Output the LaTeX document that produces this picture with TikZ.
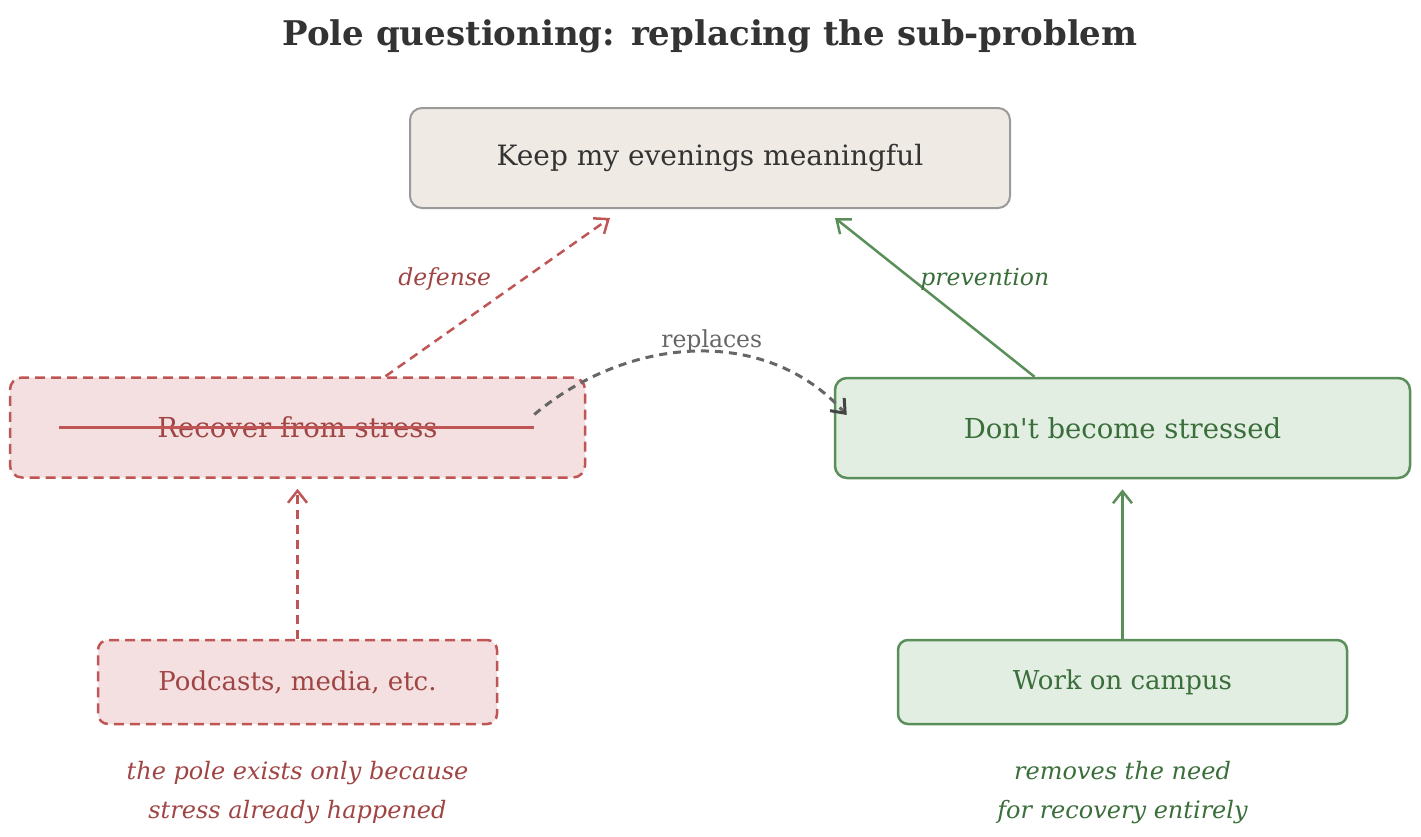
\documentclass[tikz,border=0pt]{standalone}
\usepackage{fontspec}
\setmainfont{DejaVu Serif}[Ligatures=TeXOff]
\usetikzlibrary{arrows.meta,positioning,calc}
\definecolor{inkdark}{HTML}{333333}
\definecolor{goalfill}{HTML}{EFEBE4}
\definecolor{goaldraw}{HTML}{9A9A9A}
\definecolor{redfill}{HTML}{F4E0E0}
\definecolor{reddraw}{HTML}{C05555}
\definecolor{redtext}{HTML}{A04444}
\definecolor{greenfill}{HTML}{E2EEE2}
\definecolor{greendraw}{HTML}{5A8F5A}
\definecolor{greentext}{HTML}{3A6E3A}
\definecolor{graylink}{HTML}{666666}
\definecolor{grayhead}{HTML}{444444}

\begin{document}
\begin{tikzpicture}[x=1pt,y=-1pt,
  box/.style={draw,rounded corners=12pt,line width=2pt,inner sep=0pt},
  goalbox/.style={box,fill=goalfill,draw=goaldraw,text=inkdark,minimum width=600pt,minimum height=100pt,font=\fontsize{28}{32}\selectfont},
  polered/.style={box,line width=2.5pt,dash pattern=on 10pt off 6pt,fill=redfill,draw=reddraw,text=redtext},
  polegreen/.style={box,line width=2.5pt,fill=greenfill,draw=greendraw,text=greentext},
  subbox/.style={minimum width=575pt,minimum height=100pt,font=\fontsize{27.5}{32}\selectfont},
  leafbox/.style={minimum height=84pt,rounded corners=10pt,font=\fontsize{26}{30}\selectfont},
  tip/.style={-{Straight Barb[length=12pt,width=19pt,line width=2.5pt]}},
  lbl/.style={font=\fontsize{23.5}{28}\selectfont\itshape},
  note/.style={align=center,font=\fontsize{24}{39}\selectfont\itshape}]
\useasboundingbox (0,0) rectangle (1421,836);

\node [font=\fontsize{34}{38}\selectfont\bfseries,text=inkdark] (title) at (710,36) {Pole questioning: replacing the sub-problem};
\node [goalbox] (goal) at (710,158) {Keep my evenings meaningful};
\node [polered,subbox] (recover) at (297.5,427.5) {Recover from stress};
\node [polegreen,subbox] (dont) at (1122.5,428) {Don't become stressed};
\node [polered,leafbox,minimum width=399pt] (media) at (297.5,682) {Podcasts, media, etc.};
\node [polegreen,leafbox,minimum width=449pt] (campus) at (1122.5,682) {Work on campus};
\node [note,text=redtext] (rednote) at (297.5,793) {the pole exists only because\\stress already happened};
\node [note,text=greentext] (greennote) at (1122.5,793) {removes the need\\for recovery entirely};

% strike the old sub-problem
\draw [reddraw,line width=3pt] ([xshift=50pt]recover.west) -- ([xshift=-52pt]recover.east);

\draw [tip,reddraw,line width=2.5pt,dash pattern=on 9pt off 6pt] ([xshift=88pt]recover.north) -- ([xshift=-100pt,yshift=-9pt]goal.south) node [lbl,text=redtext,pos=0.615,left=28pt] {defense};
\draw [tip,greendraw,line width=2.5pt] ([xshift=-88pt]dont.north) -- ([xshift=125pt,yshift=-9pt]goal.south) node [lbl,text=greentext,pos=0.615,right=4pt] {prevention};
\draw [graylink,line width=3pt,dash pattern=on 8pt off 6pt,-{Straight Barb[length=12pt,width=19pt,line width=3pt,color=grayhead]}] ([xshift=-52pt,yshift=13pt]recover.east) to[out=40,in=132] node [pos=0.55,above=-6pt,text=graylink,font=\fontsize{23.5}{28}\selectfont] {replaces} ([xshift=13pt,yshift=13pt]dont.west);
\draw [tip,reddraw,line width=2.5pt,dash pattern=on 9pt off 6pt] (media) -- ([yshift=-10pt]recover.south);
\draw [tip,greendraw,line width=2.5pt] (campus) -- ([yshift=-10pt]dont.south);
\end{tikzpicture}
\end{document}
